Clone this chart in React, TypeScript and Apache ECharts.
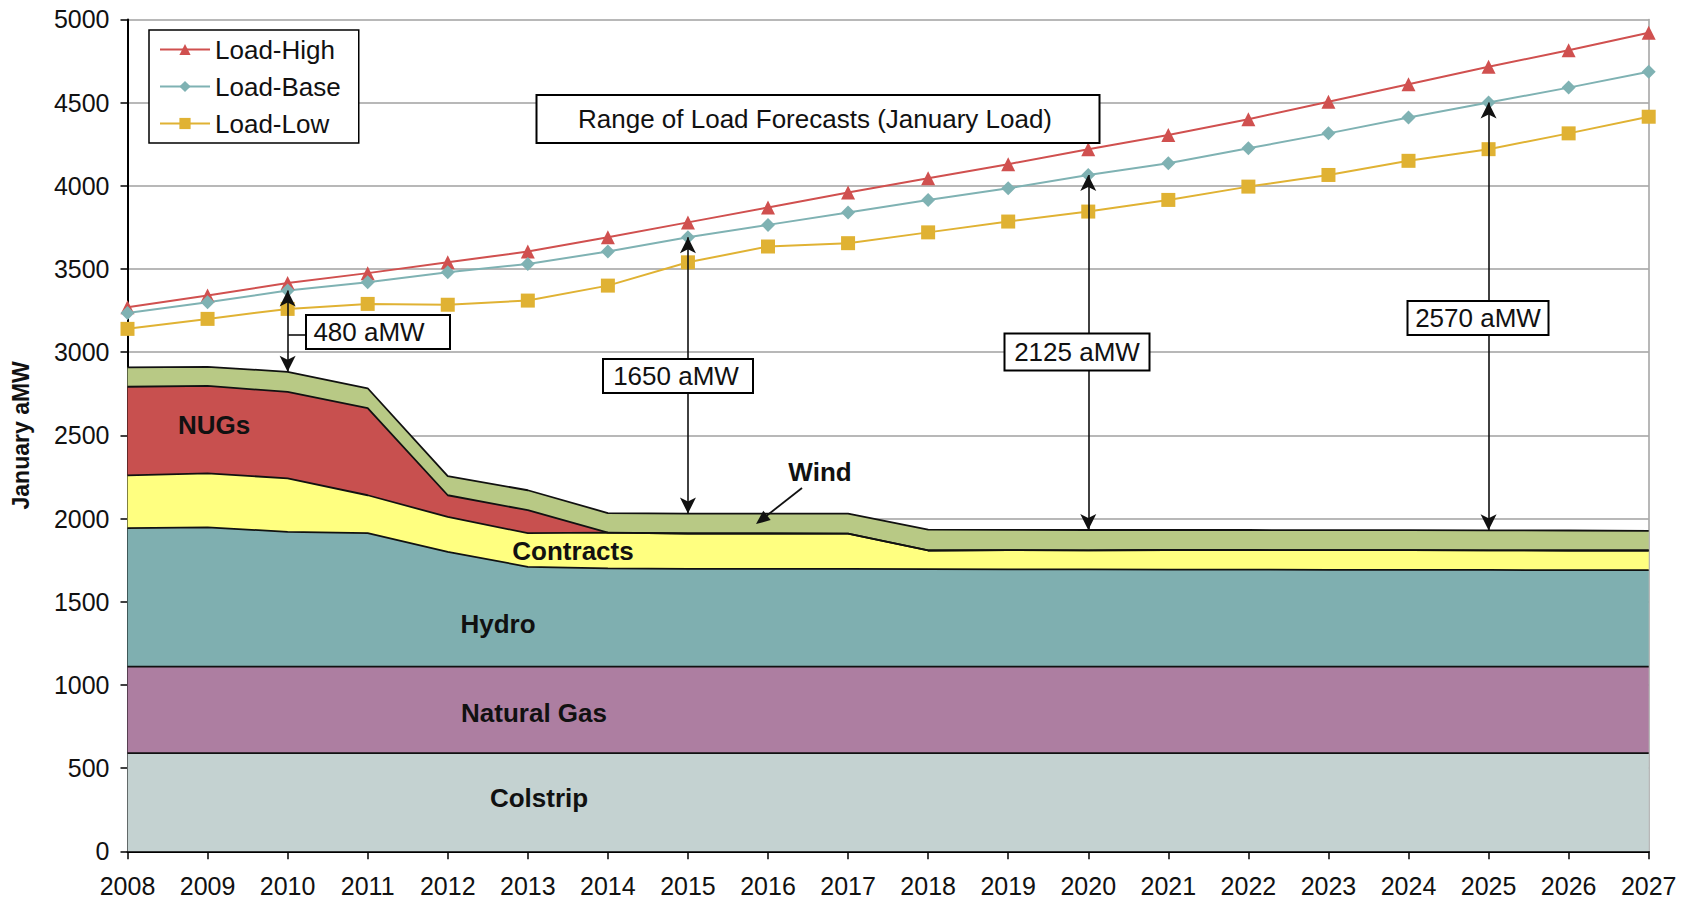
import React, { useEffect, useRef } from 'react';
import * as echarts from 'echarts';

const years = ['2008', '2009', '2010', '2011', '2012', '2013', '2014', '2015', '2016', '2017', '2018', '2019', '2020', '2021', '2022', '2023', '2024', '2025', '2026', '2027'];

const loadHigh = [3270, 3340, 3415, 3475, 3540, 3605, 3690, 3780, 3870, 3960, 4045, 4130, 4220, 4305, 4400, 4505, 4610, 4715, 4815, 4920];
const loadBase = [3235, 3300, 3370, 3420, 3480, 3530, 3605, 3690, 3765, 3840, 3915, 3985, 4065, 4135, 4225, 4315, 4410, 4500, 4590, 4685];
const loadLow = [3140, 3200, 3260, 3290, 3285, 3310, 3400, 3540, 3635, 3655, 3720, 3785, 3845, 3915, 3995, 4065, 4150, 4220, 4315, 4415];

const colstrip = [590, 590, 590, 590, 590, 590, 590, 590, 590, 590, 590, 590, 590, 590, 590, 590, 590, 590, 590, 590];
const naturalGas = [520, 520, 520, 520, 520, 520, 520, 520, 520, 520, 520, 520, 520, 520, 520, 520, 520, 520, 520, 520];
const hydro = [832, 837, 810, 802, 690, 600, 590, 588, 588, 587, 586, 585, 584, 583, 583, 582, 582, 581, 580, 580];
const contracts = [318, 325, 321, 228, 210, 202, 215, 212, 212, 212, 112, 115, 115, 118, 118, 118, 118, 118, 118, 118];
const nugs = [532, 525, 520, 523, 130, 138, 0, 0, 0, 0, 0, 0, 0, 0, 0, 0, 0, 0, 0, 0];
const wind = [117, 115, 121, 120, 115, 120, 118, 120, 120, 120, 125, 122, 122, 120, 120, 120, 120, 120, 120, 118];

const gapYears = ['2010', '2015', '2020', '2025'];
const gapLabels = ['480 aMW', '1650 aMW', '2125 aMW', '2570 aMW'];

const FONT = '"Liberation Sans", Arial, sans-serif';

export default function App() {
  const ref = useRef<HTMLDivElement>(null);

  useEffect(() => {
    document.body.style.margin = '0';
    const chart = echarts.init(ref.current!, null, { renderer: 'svg' });

    const stackTop = years.map((_, i) => colstrip[i] + naturalGas[i] + hydro[i] + contracts[i] + nugs[i] + wind[i]);

    const areaDefs: [string, number[], string][] = [
      ['Colstrip', colstrip, '#C4D2D1'],
      ['Natural Gas', naturalGas, '#AD7EA1'],
      ['Hydro', hydro, '#7FAFB0'],
      ['Contracts', contracts, '#FFFF80'],
      ['NUGs', nugs, '#C8504F'],
      ['Wind', wind, '#B8C985'],
    ];

    const areaSeries = areaDefs.map(([name, data, color]) => ({
      name,
      type: 'line',
      stack: 'supply',
      data,
      symbol: 'none',
      showSymbol: false,
      silent: true,
      z: 2,
      lineStyle: { color: '#111', width: 1.8 },
      itemStyle: { color },
      areaStyle: { color, opacity: 1 },
    }));

    const loadDefs: [string, number[], string, string][] = [
      ['Load-High', loadHigh, '#D0504F', 'triangle'],
      ['Load-Base', loadBase, '#7FB2B3', 'diamond'],
      ['Load-Low', loadLow, '#E0B233', 'rect'],
    ];

    const loadSeries: any[] = loadDefs.map(([name, data, color, symbol]) => ({
      name,
      type: 'line',
      data,
      symbol,
      symbolSize: 14,
      showSymbol: true,
      z: 5,
      lineStyle: { color, width: 2 },
      itemStyle: { color },
    }));

    loadSeries[1].markLine = {
      silent: true,
      symbol: ['arrow', 'arrow'],
      symbolSize: [12, 16],
      z: 6,
      label: { show: false },
      lineStyle: { color: '#111', width: 1.6, type: 'solid' },
      data: gapYears.map((y) => {
        const i = years.indexOf(y);
        return [{ coord: [y, stackTop[i]] }, { coord: [y, loadBase[i]] }];
      }),
    };

    const box = (cx: number, cy: number, w: number, h: number, text: string, fs: number, tx?: number) => ({
      type: 'group',
      z: 100,
      children: [
        {
          type: 'rect',
          z: 100,
          shape: { x: cx - w / 2, y: cy - h / 2, width: w, height: h },
          style: { fill: '#fff', stroke: '#000', lineWidth: 2 },
        },
        {
          type: 'text',
          z: 101,
          x: tx ?? cx,
          y: cy,
          style: {
            text,
            fill: '#111',
            fontSize: fs,
            fontFamily: FONT,
            textAlign: 'center',
            textVerticalAlign: 'middle',
            align: 'center',
            verticalAlign: 'middle',
          },
        },
      ],
    });

    const label = (cx: number, cy: number, text: string) => ({
      type: 'text',
      z: 50,
      x: cx,
      y: cy,
      style: {
        text,
        fill: '#111',
        fontSize: 26,
        fontWeight: 'bold',
        fontFamily: FONT,
        textAlign: 'center',
        textVerticalAlign: 'middle',
        align: 'center',
        verticalAlign: 'middle',
      },
    });

    const option: any = {
      animation: false,
      backgroundColor: '#fff',
      grid: { left: 127.5, right: 45.3, top: 19.4, bottom: 48.7, containLabel: false, outerBoundsMode: 'none' },
      legend: {
        data: ['Load-High', 'Load-Base', 'Load-Low'],
        orient: 'vertical',
        left: 149,
        top: 30,
        itemWidth: 50,
        itemHeight: 14,
        itemGap: 10,
        padding: [6, 18, 6, 10],
        borderColor: '#000',
        borderWidth: 1.5,
        backgroundColor: '#fff',
        z: 20,
        textStyle: { fontSize: 26, fontFamily: FONT, color: '#111', lineHeight: 27 },
      },
      xAxis: {
        type: 'category',
        data: years,
        boundaryGap: false,
        axisLine: { show: true, lineStyle: { color: '#000', width: 2 } },
        axisTick: { show: true, length: 8, lineStyle: { color: '#000', width: 1.5 } },
        axisLabel: { fontSize: 25, fontFamily: FONT, color: '#111', margin: 22, interval: 0 },
        splitLine: { show: false },
      },
      yAxis: [
        {
          type: 'value',
          min: 0,
          max: 5000,
          interval: 500,
          name: 'January aMW',
          nameLocation: 'middle',
          nameGap: 95,
          nameRotate: 90,
          nameTextStyle: { fontSize: 23, fontWeight: 'bold', fontFamily: FONT, color: '#111' },
          axisLine: { show: true, lineStyle: { color: '#000', width: 2 } },
          axisTick: { show: true, length: 7, lineStyle: { color: '#000', width: 1.5 } },
          axisLabel: { fontSize: 25, fontFamily: FONT, color: '#111', margin: 18, formatter: (v: number) => String(v) },
          splitLine: { show: true, lineStyle: { color: '#A0A0A0', width: 1.5 } },
        },
        {
          type: 'value',
          min: 0,
          max: 5000,
          interval: 500,
          position: 'right',
          axisLine: { show: true, lineStyle: { color: '#A0A0A0', width: 1.5 } },
          axisTick: { show: false },
          axisLabel: { show: false },
          splitLine: { show: false },
        },
      ],
      series: [...areaSeries, ...loadSeries],
      graphic: [
        box(818, 119, 563, 48, 'Range of Load Forecasts (January Load)', 26, 815),
        { type: 'line', z: 99, shape: { x1: 288, y1: 335, x2: 306, y2: 335 }, style: { stroke: '#111', lineWidth: 1.6 } },
        box(378, 332, 144, 34, gapLabels[0], 26, 369),
        box(678, 376, 150, 34, gapLabels[1], 26, 676),
        box(1077, 352, 145, 37, gapLabels[2], 26),
        box(1478, 318, 141, 34, gapLabels[3], 26),
        label(214, 425, 'NUGs'),
        label(573, 551, 'Contracts'),
        label(498, 624, 'Hydro'),
        label(534, 713, 'Natural Gas'),
        label(539, 798, 'Colstrip'),
        label(820, 472, 'Wind'),
        { type: 'line', z: 60, shape: { x1: 802, y1: 488, x2: 765, y2: 517 }, style: { stroke: '#111', lineWidth: 1.8 } },
        { type: 'polygon', z: 60, shape: { points: [[756, 524], [770.7, 520.1], [763.3, 510.7]] }, style: { fill: '#111' } },
      ],
    };

    chart.setOption(option);
    return () => chart.dispose();
  }, []);

  return <div ref={ref} style={{ width: 1694, height: 900 }} />;
}
